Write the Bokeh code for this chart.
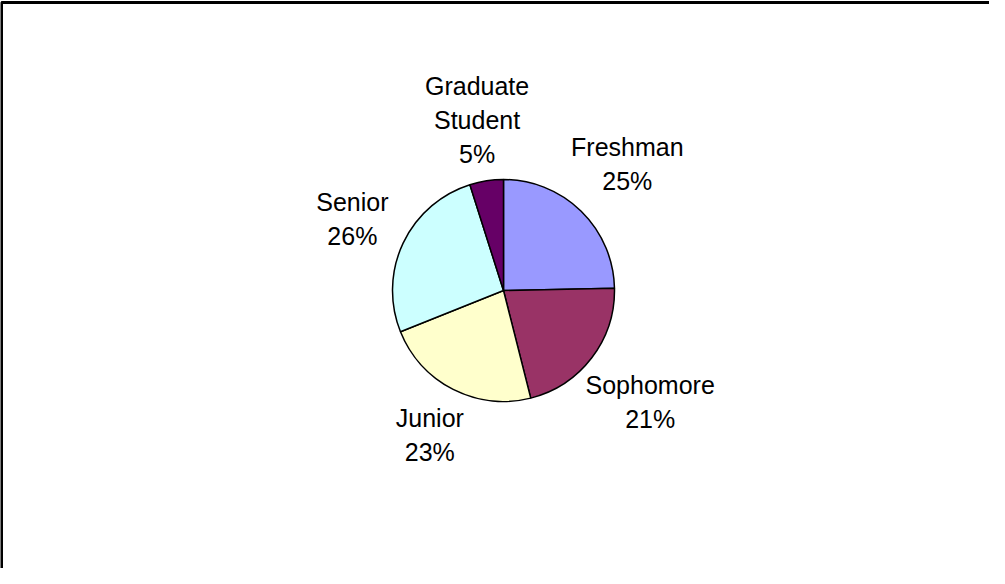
import math
from bokeh.plotting import figure
from bokeh.models import Range1d, ColumnDataSource
from bokeh.core.properties import value
from bokeh.embed import file_html
from bokeh.resources import INLINE

categories = ["Freshman", "Sophomore", "Junior", "Senior", "Graduate Student"]
values = [24.7, 21.4, 22.9, 26.2, 4.9]
colors = ["#9999FF", "#993366", "#FFFFCC", "#CCFFFF", "#660066"]

W, H = 989, 568
cx, cy, r = 503, H - 290, 111
FS = 25
LH = 35

total = sum(values)
starts, ends, lx, ly, texts = [], [], [], [], []
cum = 0.0
for cat, v in zip(categories, values):
    a0 = math.radians(90 - cum / total * 360)
    cum += v
    a1 = math.radians(90 - cum / total * 360)
    starts.append(a1)
    ends.append(a0)
    mid = (a0 + a1) / 2
    lines = cat.split(" ") + [f"{round(v / total * 100)}%"]
    w = max(len(s) for s in lines) * 0.55 * FS
    h = len(lines) * LH - 10
    d = r + 6 + abs(math.cos(mid)) * w / 2 + abs(math.sin(mid)) * h / 2
    lx.append(cx + d * math.cos(mid))
    ly.append(cy + d * math.sin(mid))
    texts.append("\n".join(lines))

p = figure(width=W, height=H, output_backend="svg", toolbar_location=None,
           x_range=Range1d(0, W), y_range=Range1d(0, H),
           x_axis_type=None, y_axis_type=None, min_border=0)
p.grid.visible = False
p.outline_line_color = None
p.background_fill_color = "white"

src = ColumnDataSource(dict(start=starts, end=ends, color=colors))
p.wedge(x=cx, y=cy, radius=r, start_angle="start", end_angle="end",
        fill_color="color", line_color="black", line_width=1.5, source=src)

p.text(x=lx, y=ly, text=texts, text_align="center", text_baseline="middle",
       text_font=value("Liberation Sans"), text_font_size=f"{FS}px",
       text_line_height=1.22, text_color="black")

# chart area border (right and bottom edges fall outside the window)
p.line(x=[1, 1, W + 20], y=[-20, H - 2, H - 2], line_color="black", line_width=3)

open("out.html", "w").write(file_html(p, INLINE))
